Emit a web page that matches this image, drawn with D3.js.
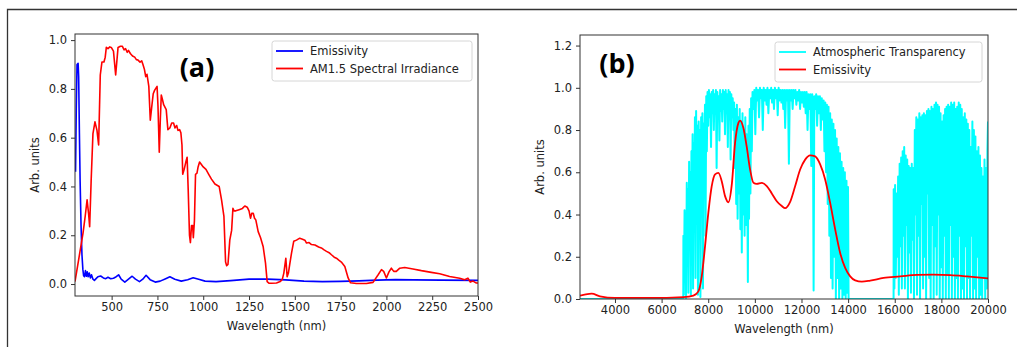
<!DOCTYPE html>
<html>
<head>
<meta charset="utf-8">
<script src="https://cdn.jsdelivr.net/npm/d3@7"></script>
<style>
  html, body { margin: 0; padding: 0; background: #fff; }
  svg text { font-family: "DejaVu Sans", sans-serif; fill: #222; }
  .axis path, .axis line { stroke: #333; }
</style>
</head>
<body>
<div id="chart"></div>
<script>
// ---- panel (a) data: wavelength (nm), arb. units
const emisA = [
  [303,0.46],[307,0.72],[311,0.9],[317,0.905],[320,0.85],[324,0.62],[328,0.42],[333,0.24],[338,0.12],
  [343,0.06],[347,0.034],[352,0.03],[357,0.055],[362,0.032],[367,0.05],[372,0.03],[378,0.045],[384,0.025],
  [390,0.038],[398,0.02],[406,0.015],[415,0.022],[425,0.03],[440,0.033],[455,0.025],[468,0.022],[480,0.028],
  [495,0.022],[510,0.024],[525,0.03],[538,0.038],[552,0.02],[572,0.008],[592,0.02],[612,0.032],[630,0.02],
  [652,0.01],[670,0.02],[688,0.036],[710,0.018],[738,0.008],[765,0.012],[795,0.022],[818,0.03],[845,0.02],
  [880,0.012],[915,0.018],[945,0.026],[975,0.02],[1010,0.012],[1070,0.01],[1150,0.014],[1250,0.02],
  [1350,0.02],[1450,0.017],[1550,0.012],[1650,0.01],[1750,0.011],[1850,0.013],[1950,0.016],[2050,0.018],
  [2150,0.017],[2300,0.016],[2500,0.015]
];
const am15 = [
  [300,0.01],[320,0.1],[344,0.21],[356,0.28],[366,0.345],[374,0.29],[380,0.235],[388,0.42],[398,0.617],
  [409,0.665],[420,0.63],[429,0.57],[438,0.857],[447,0.91],[458,0.91],[465,0.93],[471,0.97],[480,0.965],
  [490,0.972],[498,0.97],[510,0.955],[522,0.857],[535,0.97],[548,0.975],[558,0.975],[568,0.96],[576,0.965],
  [585,0.95],[592,0.958],[602,0.945],[614,0.935],[626,0.93],[635,0.92],[644,0.918],[655,0.91],[664,0.915],
  [671,0.9],[679,0.88],[686,0.85],[693,0.86],[703,0.81],[711,0.672],[718,0.72],[727,0.78],[735,0.795],
  [748,0.81],[753,0.73],[760,0.54],[766,0.68],[771,0.775],[778,0.755],[784,0.735],[798,0.715],[807,0.633],
  [818,0.64],[828,0.66],[838,0.66],[846,0.64],[855,0.65],[862,0.63],[871,0.633],[878,0.62],[884,0.57],
  [888,0.45],[896,0.47],[905,0.5],[912,0.52],[918,0.386],[925,0.2],[930,0.17],[936,0.24],[942,0.24],
  [946,0.19],[952,0.26],[958,0.45],[966,0.455],[972,0.48],[980,0.5],[990,0.49],[1000,0.48],[1015,0.47],
  [1030,0.45],[1045,0.43],[1064,0.41],[1087,0.40],[1100,0.345],[1113,0.277],[1122,0.09],[1128,0.075],
  [1135,0.08],[1145,0.18],[1155,0.22],[1162,0.31],[1168,0.3],[1178,0.30],[1196,0.305],[1214,0.31],
  [1227,0.32],[1240,0.315],[1250,0.30],[1258,0.27],[1265,0.29],[1273,0.29],[1280,0.27],[1287,0.263],
  [1300,0.215],[1313,0.19],[1327,0.154],[1340,0.086],[1349,0.01],[1360,0.003],[1373,0.003],[1400,0.004],
  [1420,0.01],[1432,0.02],[1440,0.045],[1451,0.106],[1458,0.03],[1465,0.045],[1472,0.08],[1482,0.127],
  [1494,0.175],[1509,0.18],[1527,0.188],[1542,0.184],[1555,0.18],[1564,0.168],[1578,0.17],[1591,0.162],
  [1610,0.16],[1630,0.152],[1645,0.148],[1660,0.14],[1673,0.134],[1690,0.127],[1700,0.12],[1715,0.11],
  [1727,0.106],[1740,0.098],[1754,0.09],[1773,0.072],[1791,0.025],[1804,0.005],[1836,0.002],[1891,0.002],
  [1927,0.007],[1955,0.038],[1973,0.059],[1985,0.052],[2000,0.025],[2014,0.05],[2027,0.065],[2040,0.052],
  [2054,0.052],[2073,0.065],[2100,0.068],[2145,0.062],[2191,0.055],[2245,0.048],[2291,0.042],[2345,0.031],
  [2400,0.024],[2427,0.018],[2445,0.024],[2458,0.008],[2473,0.012],[2491,0.004],[2500,0.004]
];

// ---- panel (b) data
const atmTrans = [
  [2500,0],[6930,0],
  [6935,0.30],[6955,0.02],[6985,0.42],[7000,0.12],[7030,0.38],[7050,0.0],[7080,0.55],[7100,0.22],
  [7130,0.52],[7150,0.03],[7180,0.65],[7200,0.30],[7230,0.60],[7255,0.02],[7280,0.70],[7300,0.35],
  [7330,0.78],[7350,0.05],[7380,0.74],[7400,0.45],[7430,0.86],[7455,0.10],[7480,0.89],[7505,0.50],
  [7535,0.82],[7560,0.02],[7590,0.84],[7610,0.40],[7640,0.80],[7665,0.01],[7695,0.86],[7720,0.55],
  [7750,0.88],[7775,0.05],[7805,0.83],[7830,0.62],[7860,0.92],[7885,0.30],[7915,0.96],[7940,0.70],
  [7970,0.98],
  [8000,0.82],[8030,0.99],[8060,0.86],[8090,0.97],[8120,0.72],[8150,0.98],[8180,0.88],[8210,0.99],
  [8240,0.80],[8270,0.97],[8300,0.90],[8330,0.99],[8360,0.62],[8390,0.98],[8420,0.87],[8450,0.96],
  [8480,0.75],[8510,0.99],[8540,0.89],[8570,0.97],[8600,0.84],[8630,0.99],[8660,0.90],[8690,0.98],
  [8720,0.78],[8750,0.99],[8780,0.88],[8810,0.97],[8840,0.72],[8870,0.99],[8900,0.85],[8930,0.98],
  [8960,0.66],[8990,0.97],[9020,0.86],[9050,0.95],[9080,0.80],[9110,0.93],[9140,0.62],[9170,0.90],
  [9200,0.45],[9230,0.92],[9260,0.38],[9290,0.86],[9320,0.50],[9350,0.90],[9380,0.33],[9410,0.84],
  [9440,0.22],[9470,0.88],[9500,0.40],[9530,0.80],[9560,0.30],[9590,0.86],[9620,0.35],[9650,0.78],
  [9680,0.45],[9700,0.08],[9725,0.82],[9750,0.38],[9780,0.90],[9810,0.50],[9840,0.95],[9870,0.70],
  [9900,0.98],[9940,0.90],[9980,0.99],[10020,0.78],[10060,1.0],[10100,0.94],[10140,0.99],[10180,0.86],
  [10220,1.0],[10260,0.95],[10300,0.99],[10340,0.80],[10380,1.0],[10420,0.94],[10460,0.99],[10500,0.92],
  [10540,1.0],[10580,0.88],[10620,0.99],[10660,0.95],[10700,1.0],[10740,0.93],[10780,0.99],[10820,0.90],
  [10860,1.0],[10900,0.95],[10940,0.99],[10980,0.87],[11020,1.0],[11060,0.94],[11100,0.99],[11140,0.93],
  [11180,0.99],[11220,0.90],[11260,0.99],[11300,0.81],[11340,0.99],[11380,0.94],[11420,0.99],[11460,0.64],
  [11500,0.99],[11540,0.94],[11580,0.99],[11620,0.90],[11660,0.99],[11700,0.95],[11740,0.99],[11780,0.92],
  [11820,0.98],[11860,0.94],[11900,0.99],[11940,0.90],[11980,0.98],[12020,0.93],[12060,0.98],[12100,0.91],
  [12140,0.98],[12180,0.88],[12220,0.98],[12260,0.80],[12300,0.97],[12340,0.90],[12380,0.97],[12420,0.63],
  [12460,0.97],[12490,0.88],[12520,0.04],[12550,0.96],[12590,0.90],[12630,0.97],[12670,0.82],[12710,0.96],
  [12750,0.88],[12790,0.96],[12830,0.80],[12870,0.95],[12910,0.85],
  [12950,0.94],[12985,0.70],[13020,0.93],[13055,0.60],[13090,0.92],[13125,0.45],[13160,0.91],[13195,0.30],
  [13230,0.88],[13265,0.10],[13300,0.85],[13335,0.05],[13370,0.83],[13405,0.20],[13440,0.80],[13475,0.0],
  [13510,0.76],[13545,0.10],[13580,0.72],[13615,0.0],[13650,0.69],[13685,0.05],[13720,0.65],[13755,0.0],
  [13790,0.62],[13825,0.02],[13860,0.60],[13895,0.0],[13930,0.56],[13965,0.03],[13995,0.53],[14020,0.0],
  [14050,0.0],[15950,0.0],
  [15955,0.52],[15985,0.05],[16015,0.54],[16045,0.10],[16080,0.50],[16110,0.20],[16145,0.58],[16175,0.02],
  [16210,0.64],[16240,0.25],[16275,0.67],[16305,0.05],[16340,0.70],[16370,0.30],[16405,0.72],[16435,0.05],
  [16470,0.68],[16500,0.35],[16535,0.66],[16565,0.0],[16600,0.63],[16630,0.22],[16665,0.62],[16695,0.03],
  [16730,0.64],[16760,0.28],[16795,0.62],[16825,0.0],[16860,0.80],[16890,0.40],[16925,0.86],[16955,0.02],
  [16990,0.85],[17020,0.30],[17055,0.88],[17085,0.0],[17120,0.86],[17150,0.45],[17185,0.87],[17215,0.05],
  [17250,0.88],[17280,0.20],[17315,0.87],[17345,0.0],[17380,0.89],[17410,0.50],[17445,0.90],[17475,0.10],
  [17510,0.89],[17540,0.0],[17575,0.91],[17605,0.35],[17640,0.90],[17670,0.0],[17705,0.92],[17735,0.25],
  [17770,0.93],[17800,0.02],[17835,0.92],[17865,0.40],[17900,0.91],[17930,0.0],[17965,0.88],[17995,0.15],
  [18030,0.84],[18060,0.0],[18095,0.87],[18125,0.30],[18160,0.90],[18190,0.0],[18225,0.91],[18255,0.12],
  [18290,0.92],[18320,0.0],[18355,0.91],[18385,0.35],[18420,0.93],[18450,0.0],[18485,0.92],[18515,0.20],
  [18550,0.93],[18580,0.0],[18615,0.90],[18645,0.10],[18680,0.91],[18710,0.0],[18745,0.93],[18775,0.30],
  [18810,0.92],[18840,0.0],[18875,0.90],[18905,0.05],[18940,0.86],[18970,0.0],[19005,0.88],[19035,0.25],
  [19070,0.85],[19100,0.0],[19135,0.83],[19165,0.10],[19200,0.80],[19230,0.0],[19265,0.72],[19295,0.30],
  [19330,0.84],[19360,0.0],[19395,0.80],[19425,0.05],[19460,0.77],[19490,0.0],[19525,0.70],[19555,0.20],
  [19590,0.72],[19620,0.0],[19655,0.68],[19685,0.02],[19720,0.62],[19750,0.0],[19785,0.58],[19815,0.10],
  [19850,0.66],[19880,0.0],[19915,0.62],[19945,0.05],[19975,0.70],[20000,0.84]
];
const emisB = [
  [2500,0.016],[2750,0.022],[3000,0.025],[3356,0.013],[4000,0.005],[5503,0.005],[6934,0.009],[7363,0.016],
  [7578,0.036],[7721,0.107],[7864,0.25],[8007,0.41],[8150,0.534],[8293,0.59],[8436,0.597],[8579,0.558],
  [8722,0.487],[8866,0.458],[9009,0.54],[9152,0.74],[9295,0.834],[9366,0.845],[9509,0.81],[9652,0.72],
  [9796,0.613],[9939,0.55],[10082,0.545],[10296,0.55],[10511,0.535],[10726,0.50],[10940,0.463],[11155,0.44],
  [11298,0.43],[11513,0.46],[11727,0.534],[11942,0.613],[12157,0.66],[12371,0.68],[12586,0.675],[12801,0.637],
  [13015,0.566],[13230,0.455],[13445,0.33],[13659,0.218],[13874,0.147],[14089,0.107],[14303,0.088],
  [14589,0.082],[14947,0.087],[15520,0.10],[16235,0.107],[16951,0.114],[17666,0.115],[18382,0.113],
  [19097,0.107],[20000,0.098]
];

const ticksAx = [500, 750, 1000, 1250, 1500, 1750, 2000, 2250, 2500];
const ticksAy = [0, 0.2, 0.4, 0.6, 0.8, 1.0];
const ticksBx = [4000, 6000, 8000, 10000, 12000, 14000, 16000, 18000, 20000];
const ticksBy = [0, 0.2, 0.4, 0.6, 0.8, 1.0, 1.2];

const svg = d3.select('#chart').append('svg')
    .attr('width', 1017)
    .attr('height', 347);

svg.append('rect').attr('width', 1017).attr('height', 347).attr('fill', '#fff');

// outer frame (cropped on the right and bottom)
svg.append('path')
    .attr('d', 'M7.5,347 V9.5 H1017')
    .attr('fill', 'none')
    .attr('stroke', '#333')
    .attr('stroke-width', 1.3);

const drawPanel = (cfg) => {
    const x = d3.scaleLinear().domain(cfg.xDomain).range([cfg.left, cfg.right]);
    const y = d3.scaleLinear().domain(cfg.yDomain).range([cfg.bottom, cfg.top]);

    svg.append('clipPath').attr('id', cfg.id + '-clip')
        .append('rect')
        .attr('x', cfg.left).attr('y', cfg.top)
        .attr('width', cfg.right - cfg.left).attr('height', cfg.bottom - cfg.top);

    const plot = svg.append('g').attr('clip-path', `url(#${cfg.id}-clip)`);

    cfg.series.forEach(s => {
        const line = d3.line()
            .x(d => x(d[0]))
            .y(d => y(d[1]))
            .curve(s.curve || d3.curveLinear);
        plot.append('path')
            .datum(s.data)
            .attr('fill', 'none')
            .attr('stroke', s.color)
            .attr('stroke-width', s.width || 1.6)
            .attr('stroke-linejoin', 'round')
            .attr('d', line);
    });

    svg.append('g')
        .attr('class', 'axis')
        .attr('transform', `translate(0, ${cfg.bottom})`)
        .call(d3.axisBottom(x).tickValues(cfg.xTicks).tickFormat(d3.format('d')).tickSize(4).tickPadding(3))
        .call(g => g.select('.domain').remove())
        .selectAll('text').style('font-size', '11.5px').style('fill', '#222');

    svg.append('g')
        .attr('class', 'axis')
        .attr('transform', `translate(${cfg.left}, 0)`)
        .call(d3.axisLeft(y).tickValues(cfg.yTicks).tickFormat(d3.format('.1f')).tickSize(4).tickPadding(4))
        .call(g => g.select('.domain').remove())
        .selectAll('text').style('font-size', '11.5px').style('fill', '#222');

    // spines
    svg.append('rect')
        .attr('x', cfg.left).attr('y', cfg.top)
        .attr('width', cfg.right - cfg.left).attr('height', cfg.bottom - cfg.top)
        .attr('fill', 'none').attr('stroke', '#333').attr('stroke-width', 1);

    svg.append('text')
        .attr('x', (cfg.left + cfg.right) / 2)
        .attr('y', cfg.bottom + 34)
        .attr('text-anchor', 'middle')
        .style('font-size', '11.5px')
        .text('Wavelength (nm)');

    svg.append('text')
        .attr('transform', `translate(${cfg.left - 36}, ${(cfg.top + cfg.bottom) / 2}) rotate(-90)`)
        .attr('text-anchor', 'middle')
        .style('font-size', '11.5px')
        .text('Arb. units');

    // legend
    const lg = cfg.legend;
    svg.append('rect')
        .attr('x', lg.x).attr('y', lg.y)
        .attr('width', lg.w).attr('height', 40)
        .attr('rx', 2.5)
        .attr('fill', '#fff').attr('fill-opacity', 0.8)
        .attr('stroke', '#d6d6d6');
    cfg.series.forEach((s, i) => {
        const yy = lg.y + 10 + i * 17.5;
        svg.append('line')
            .attr('x1', lg.x + 4).attr('x2', lg.x + 31)
            .attr('y1', yy).attr('y2', yy)
            .attr('stroke', s.color).attr('stroke-width', 1.8);
        svg.append('text')
            .attr('x', lg.x + 38).attr('y', yy + 4)
            .style('font-size', '11.5px')
            .text(s.name);
    });

    svg.append('text')
        .attr('x', cfg.tag.x).attr('y', cfg.tag.y)
        .attr('text-anchor', 'middle')
        .style('font-family', '"Open Sans", sans-serif')
        .style('font-weight', 'bold')
        .style('font-size', '27px')
        .style('fill', '#000')
        .text(cfg.tag.text);
};

drawPanel({
    id: 'pa', left: 75, right: 478, top: 34, bottom: 296,
    xDomain: [300, 2500], yDomain: [-0.049, 1.025],
    xTicks: ticksAx, yTicks: ticksAy,
    series: [
        { name: 'Emissivity', color: '#0000ff', data: emisA },
        { name: 'AM1.5 Spectral Irradiance', color: '#ff0000', data: am15 }
    ],
    legend: { x: 272, y: 41, w: 200 },
    tag: { x: 197, y: 77, text: '(a)' }
});

drawPanel({
    id: 'pb', left: 580, right: 988, top: 35, bottom: 299,
    xDomain: [2500, 20000], yDomain: [0, 1.25],
    xTicks: ticksBx, yTicks: ticksBy,
    series: [
        { name: 'Atmospheric Transparency', color: '#00ffff', data: atmTrans, width: 2 },
        { name: 'Emissivity', color: '#ff0000', data: emisB, curve: d3.curveMonotoneX, width: 1.8 }
    ],
    legend: { x: 775, y: 42, w: 207 },
    tag: { x: 617, y: 73, text: '(b)' }
});
</script>
</body>
</html>
